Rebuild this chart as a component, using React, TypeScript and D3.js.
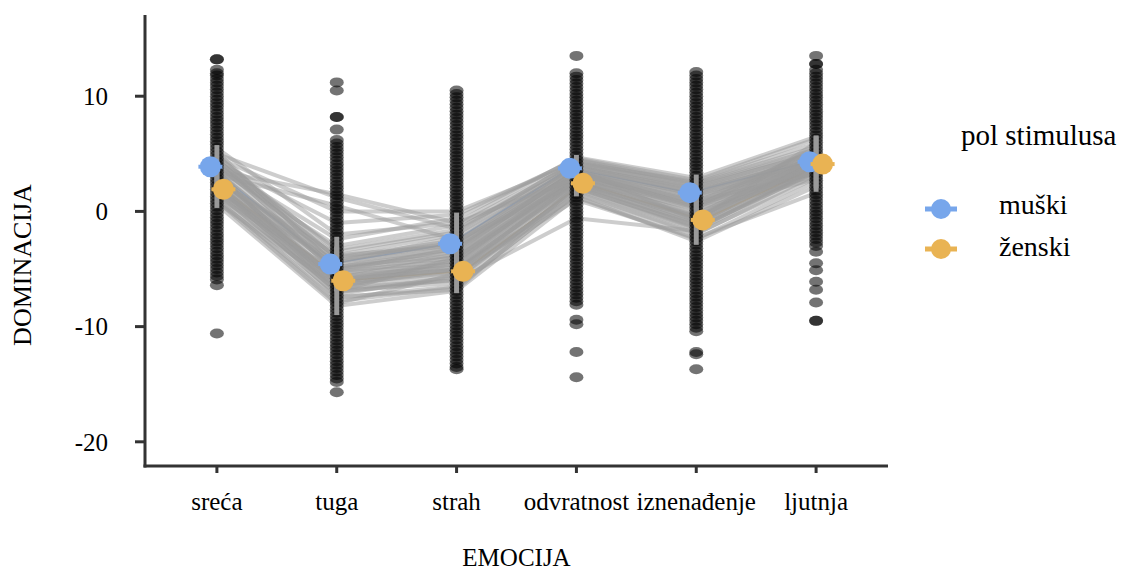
import React from "react";
import * as d3 from "d3";

// kategorije i vrijednosti
const emocije = ["sreća", "tuga", "strah", "odvratnost", "iznenađenje", "ljutnja"];
const yTicks = [10, 0, -10, -20];
const yTickLabels = ["10", "0", "-10", "-20"];

// prosjeci po polu stimulusa
const muskiMean = [3.88, -4.57, -2.81, 3.74, 1.63, 4.31];
const zenskiMean = [1.92, -6.02, -5.2, 2.44, -0.74, 4.11];
const muskiSd = [1.88, 2.37, 2.71, 1.16, 1.57, 2.29];
const zenskiSd = [1.62, 2.98, 1.9, 1.14, 2.16, 2.41];

// pojedinacni sudionici (linije)
const sudionici = [
  [4.2, -4.0, -2.5, 4.0, 2.0, 4.8],
  [3.5, -5.2, -3.2, 3.4, 1.2, 3.9],
  [4.8, -3.5, -1.8, 4.4, 2.4, 5.4],
  [3.0, -5.8, -3.9, 3.1, 0.8, 3.6],
  [4.5, -4.4, -2.2, 3.9, 1.9, 4.6],
  [3.7, -3.0, -1.2, 4.2, 2.6, 5.9],
  [5.2, -4.8, -3.4, 3.6, 1.4, 4.2],
  [3.3, -6.5, -4.5, 2.9, 0.5, 3.1],
  [4.0, -2.4, -0.6, 4.6, 2.7, 6.3],
  [2.8, -4.2, -2.9, 3.8, 1.6, 4.4],
  [4.6, -5.5, -3.7, 3.3, 1.0, 3.8],
  [3.9, -3.8, -2.0, 4.1, 2.2, 5.0],
  [5.0, 1.2, -1.5, 3.9, 1.8, 4.5],
  [4.3, -1.0, -0.3, 4.5, 2.5, 5.6],
  [3.6, -7.0, -4.0, 2.7, 0.2, 2.8],
  [4.1, -4.6, -2.6, 3.7, -0.8, 4.0],
  [3.4, -4.9, -3.0, 3.5, 1.3, 4.1],
  [4.4, -3.3, -1.6, 4.3, 2.3, 5.2],
  [2.7, -6.2, -4.2, 3.0, 0.6, 3.4],
  [5.5, -2.0, -1.0, 4.7, 2.9, 6.5],
  [3.8, -5.0, -3.5, 3.6, 1.5, 4.3],
  [4.7, 0.0, 0.0, 4.2, 2.1, 5.1],
  [3.1, -6.0, -4.4, 3.2, 0.9, 3.3],
  [4.9, -4.1, -2.7, 3.8, 1.7, 4.7],
  [2.0, -6.0, -5.0, 2.5, -0.6, 4.2],
  [1.5, -6.8, -5.8, 2.0, -1.2, 3.7],
  [2.6, -5.2, -4.3, 3.0, 0.1, 4.7],
  [1.0, -7.5, -6.5, 1.5, -2.0, 3.2],
  [2.3, -5.6, -4.8, 2.7, -0.4, 4.4],
  [1.8, -6.4, -5.5, 2.2, -1.0, 3.9],
  [2.9, -4.8, -3.8, 3.3, 0.5, 5.0],
  [0.6, -8.2, -6.9, 1.2, -2.4, 2.6],
  [2.1, -6.1, -5.2, 2.6, -0.8, 4.1],
  [1.3, -5.3, -4.6, 2.8, -0.2, 4.5],
  [2.5, -7.0, -5.9, 1.9, -1.5, 3.5],
  [1.7, -4.4, -3.3, 3.5, 0.8, 5.3],
  [3.2, 0.5, -2.5, 2.4, -0.5, 4.3],
  [1.9, -6.6, -6.0, -0.6, -1.7, 3.6],
  [0.9, -8.0, -5.4, 1.0, -2.3, 1.6],
  [2.2, -5.7, -4.9, 2.3, -0.9, 6.0],
  [2.4, -5.9, -5.1, 2.6, -0.5, 4.0],
  [1.6, -6.9, -6.2, 2.1, -1.4, 3.4],
  [2.8, -5.0, -4.0, 3.1, 0.3, 4.8],
  [1.1, -7.8, -6.6, 1.6, -1.9, 2.9],
  [2.0, -6.3, -5.3, 2.4, -1.1, 4.3],
  [1.4, -7.2, -5.6, 1.8, -1.6, 3.8],
  [2.7, -3.8, -3.0, 3.4, 0.4, 5.5],
  [3.5, 1.5, -1.0, 2.9, -0.3, 4.6],
  [0.8, -6.5, -5.0, 1.3, -2.6, 2.2],
  [2.3, -7.4, -6.8, 2.2, -1.3, 3.6],
];

// pojedinacni odgovori (tocke) po emociji
const sreca = [13.2, 13.2, 12.3, 12.0, 11.8, 11.5, 11.2, 10.9, 10.6, 10.3, 10.0, 9.7, 9.4, 9.1, 8.8, 8.5, 8.2, 7.9, 7.6, 7.3, 7.0, 6.7, 6.4, 6.1, 5.8, 5.5, 5.2, 4.9, 4.6, 4.3, 4.0, 3.7, 3.4, 3.1, 2.8, 2.5, 2.2, 1.9, 1.6, 1.3, 1.0, 0.7, 0.4, 0.1, -0.2, -0.5, -0.8, -1.1, -1.4, -1.7, -2.0, -2.3, -2.6, -2.9, -3.2, -3.5, -3.8, -4.1, -4.4, -4.7, -5.0, -5.3, -5.6, -5.9, -6.4, -10.6];
const tuga = [11.2, 10.5, 8.2, 8.2, 7.1, 6.2, 5.9, 5.6, 5.3, 5.0, 4.7, 4.4, 4.1, 3.8, 3.5, 3.2, 2.9, 2.6, 2.3, 2.0, 1.7, 1.4, 1.1, 0.8, 0.5, 0.2, -0.1, -0.4, -0.7, -1.0, -1.3, -1.6, -1.9, -2.2, -2.5, -2.8, -3.1, -3.4, -3.7, -4.0, -4.3, -4.6, -4.9, -5.2, -5.5, -5.8, -6.1, -6.4, -6.7, -7.0, -7.3, -7.6, -7.9, -8.2, -8.5, -8.8, -9.1, -9.4, -9.7, -10.0, -10.3, -10.6, -10.9, -11.2, -11.5, -11.8, -12.1, -12.4, -12.7, -13.0, -13.3, -13.6, -13.9, -14.2, -14.5, -14.8, -15.7];
const strah = [10.5, 10.2, 9.9, 9.6, 9.3, 9.0, 8.7, 8.4, 8.1, 7.8, 7.5, 7.2, 6.9, 6.6, 6.3, 6.0, 5.7, 5.4, 5.1, 4.8, 4.5, 4.2, 3.9, 3.6, 3.3, 3.0, 2.7, 2.4, 2.1, 1.8, 1.5, 1.2, 0.9, 0.6, 0.3, 0.0, -0.3, -0.6, -0.9, -1.2, -1.5, -1.8, -2.1, -2.4, -2.7, -3.0, -3.3, -3.6, -3.9, -4.2, -4.5, -4.8, -5.1, -5.4, -5.7, -6.0, -6.3, -6.6, -6.9, -7.2, -7.5, -7.8, -8.1, -8.4, -8.7, -9.0, -9.3, -9.6, -9.9, -10.2, -10.5, -10.8, -11.1, -11.4, -11.7, -12.0, -12.3, -12.6, -12.9, -13.2, -13.5, -13.7];
const odvratnost = [13.5, 12.0, 11.7, 11.4, 11.1, 10.8, 10.5, 10.2, 9.9, 9.6, 9.3, 9.0, 8.7, 8.4, 8.1, 7.8, 7.5, 7.2, 6.9, 6.6, 6.3, 6.0, 5.7, 5.4, 5.1, 4.8, 4.5, 4.2, 3.9, 3.6, 3.3, 3.0, 2.7, 2.4, 2.1, 1.8, 1.5, 1.2, 0.9, 0.6, 0.3, 0.0, -0.3, -0.6, -0.9, -1.2, -1.5, -1.8, -2.1, -2.4, -2.7, -3.0, -3.3, -3.6, -3.9, -4.2, -4.5, -4.8, -5.1, -5.4, -5.7, -6.0, -6.3, -6.6, -6.9, -7.2, -7.5, -7.8, -8.1, -9.4, -9.8, -12.2, -14.4];
const iznenadenje = [12.1, 11.8, 11.5, 11.2, 10.9, 10.6, 10.3, 10.0, 9.7, 9.4, 9.1, 8.8, 8.5, 8.2, 7.9, 7.6, 7.3, 7.0, 6.7, 6.4, 6.1, 5.8, 5.5, 5.2, 4.9, 4.6, 4.3, 4.0, 3.7, 3.4, 3.1, 2.8, 2.5, 2.2, 1.9, 1.6, 1.3, 1.0, 0.7, 0.4, 0.1, -0.2, -0.5, -0.8, -1.1, -1.4, -1.7, -2.0, -2.3, -2.6, -2.9, -3.2, -3.5, -3.8, -4.1, -4.4, -4.7, -5.0, -5.3, -5.6, -5.9, -6.2, -6.5, -6.8, -7.1, -7.4, -7.7, -8.0, -8.3, -8.6, -8.9, -9.2, -9.5, -9.8, -10.1, -10.4, -12.2, -12.4, -13.7];
const ljutnja = [13.5, 12.8, 12.8, 12.3, 12.0, 11.7, 11.4, 11.1, 10.8, 10.5, 10.2, 9.9, 9.6, 9.3, 9.0, 8.7, 8.4, 8.1, 7.8, 7.5, 7.2, 6.9, 6.6, 6.3, 6.0, 5.7, 5.4, 5.1, 4.8, 4.5, 4.2, 3.9, 3.6, 3.3, 3.0, 2.7, 2.4, 2.1, 1.8, 1.5, 1.2, 0.9, 0.6, 0.3, 0.0, -0.3, -0.6, -0.9, -1.2, -1.5, -1.8, -2.1, -2.4, -2.7, -3.0, -3.5, -4.5, -5.1, -6.1, -6.8, -7.9, -9.5, -9.5];
const odgovori = [sreca, tuga, strah, odvratnost, iznenadenje, ljutnja];

const pol = ["muški", "ženski"];
const boje = ["#77a6eb", "#e9b353"];

const width = 1121,
  height = 573;
const plotL = 145,
  plotR = 888,
  plotT = 15,
  plotB = 466;
const font = "'Liberation Serif', 'Times New Roman', serif";
const axisCol = "#333333";

export default function App() {
  const xScale = d3
    .scalePoint<string>()
    .domain(emocije)
    .range([plotL, plotR])
    .padding(0.6);
  const yScale = d3.scaleLinear().domain([-22.1, 17.05]).range([plotB, plotT]);

  const line = d3
    .line<number>()
    .x((d, i) => xScale(emocije[i]) as number)
    .y((d) => yScale(d));

  const means = [muskiMean, zenskiMean];
  const sds = [muskiSd, zenskiSd];
  const dodge = [-6.5, 6.5];

  return (
    <svg width={width} height={height} style={{ position: "absolute", left: 0, top: 0 }}>
      <rect width={width} height={height} fill="white" />

      {/* linije sredina */}
      {means.map((m, g) => (
        <path
          key={"ml" + g}
          d={d3
            .line<number>()
            .x((d, i) => (xScale(emocije[i]) as number) + dodge[g])
            .y((d) => yScale(d))(m) as string}
          fill="none"
          stroke={boje[g]}
          strokeWidth={1.5}
        />
      ))}

      {/* sudionici */}
      <g>
        {sudionici.map((s, i) => (
          <path
            key={i}
            d={line(s) as string}
            fill="none"
            stroke="#9c9c9c"
            strokeOpacity={0.5}
            strokeWidth={4}
          />
        ))}
      </g>

      {/* tocke */}
      <g>
        {odgovori.map((vals, c) =>
          vals.map((v, j) => (
            <ellipse
              key={c + "-" + j}
              cx={xScale(emocije[c])}
              cy={yScale(v)}
              rx={7}
              ry={5}
              fill="black"
              fillOpacity={0.55}
            />
          ))
        )}
      </g>

      {/* error barovi */}
      <g>
        {means.map((m, g) =>
          m.map((v, c) => (
            <line
              key={g + "-" + c}
              x1={xScale(emocije[c])}
              x2={xScale(emocije[c])}
              y1={yScale(v - sds[g][c])}
              y2={yScale(v + sds[g][c])}
              stroke="#999999"
              strokeWidth={5}
            />
          ))
        )}
      </g>

      {/* sredine */}
      <g>
        {means.map((m, g) =>
          m.map((v, c) => (
            <g key={g + "-" + c}>
              <line
                x1={(xScale(emocije[c]) as number) + dodge[g] - 12}
                x2={(xScale(emocije[c]) as number) + dodge[g] + 12}
                y1={yScale(v)}
                y2={yScale(v)}
                stroke={boje[g]}
                strokeWidth={4}
              />
              <circle
                cx={(xScale(emocije[c]) as number) + dodge[g]}
                cy={yScale(v)}
                r={10.5}
                fill={boje[g]}
              />
            </g>
          ))
        )}
      </g>

      {/* y os */}
      <line x1={plotL} x2={plotL} y1={plotT} y2={plotB + 1.5} stroke={axisCol} strokeWidth={3} />
      {yTicks.map((t, i) => (
        <g key={t}>
          <line x1={plotL - 10} x2={plotL} y1={yScale(t)} y2={yScale(t)} stroke={axisCol} strokeWidth={3} />
          <text
            x={108}
            y={yScale(t)}
            dy="0.35em"
            textAnchor="end"
            fontFamily={font}
            fontSize={25}
            fill="black"
          >
            {yTickLabels[i]}
          </text>
        </g>
      ))}

      {/* x os */}
      <line x1={plotL - 1.5} x2={plotR} y1={plotB} y2={plotB} stroke={axisCol} strokeWidth={3} />
      {emocije.map((e) => (
        <g key={e}>
          <line
            x1={xScale(e)}
            x2={xScale(e)}
            y1={plotB}
            y2={plotB + 7}
            stroke={axisCol}
            strokeWidth={3}
          />
          <text
            x={xScale(e)}
            y={510}
            textAnchor="middle"
            fontFamily={font}
            fontSize={25}
            fill="black"
          >
            {e}
          </text>
        </g>
      ))}

      {/* naslovi osi */}
      <text x={(plotL + plotR) / 2} y={566} textAnchor="middle" fontFamily={font} fontSize={25}>
        EMOCIJA
      </text>
      <text
        transform={`translate(31,265) rotate(-90)`}
        textAnchor="middle"
        fontFamily={font}
        fontSize={26}
      >
        DOMINACIJA
      </text>

      {/* legenda */}
      <text x={961} y={145} fontFamily={font} fontSize={29}>
        pol stimulusa
      </text>
      {pol.map((p, g) => (
        <g key={p}>
          <line x1={925} x2={957} y1={209 + g * 40} y2={209 + g * 40} stroke={boje[g]} strokeWidth={5} />
          <circle cx={941} cy={209 + g * 40} r={10} fill={boje[g]} />
          <text x={999} y={214 + g * 42} fontFamily={font} fontSize={28}>
            {p}
          </text>
        </g>
      ))}
    </svg>
  );
}
